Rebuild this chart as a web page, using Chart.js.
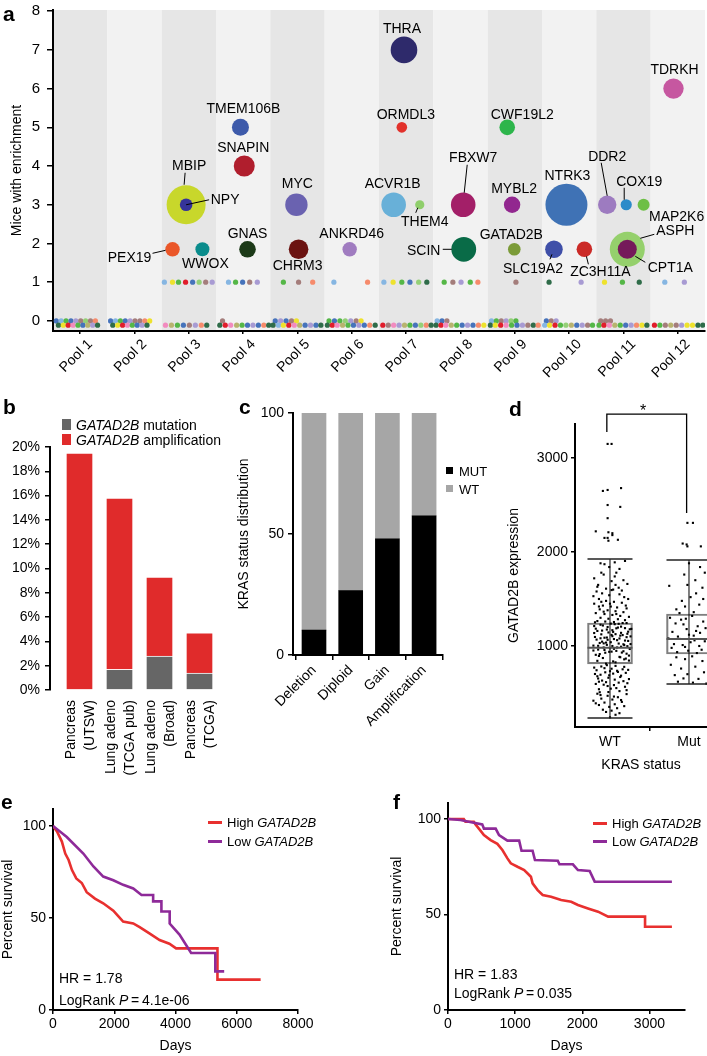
<!DOCTYPE html>
<html>
<head>
<meta charset="utf-8">
<script src="https://cdn.jsdelivr.net/npm/chart.js@4.4.1/dist/chart.umd.min.js"></script>
<style>
  html, body { margin: 0; padding: 0; overflow: hidden; background: #fff; }
  #fig { position: relative; width: 707px; height: 1056px; font-family: "Liberation Sans", Arial, sans-serif; color: #000; }
  canvas { position: absolute; }
  .t { position: absolute; white-space: nowrap; line-height: 1; transform: translateY(-50%); }
  .p { font-weight: bold; font-size: 21px; }
  .sq { position: absolute; }
</style>
</head>
<body>
<div id="fig">
  <canvas id="ca" width="708" height="392" style="left:0;top:0"></canvas>
  <canvas id="cb" width="232" height="385" style="left:0;top:395px"></canvas>
  <canvas id="cc" width="238" height="380" style="left:232px;top:395px"></canvas>
  <canvas id="cd" width="238" height="380" style="left:472px;top:395px"></canvas>
  <canvas id="ce" width="350" height="266" style="left:0;top:790px"></canvas>
  <canvas id="cf" width="357" height="266" style="left:350px;top:790px"></canvas>

  <div class="t p" style="left:3px;top:13px">a</div>
  <div class="t p" style="left:3px;top:406px">b</div>
  <div class="t p" style="left:239px;top:406px">c</div>
  <div class="t p" style="left:509px;top:408px">d</div>
  <div class="t p" style="left:1px;top:801px">e</div>
  <div class="t p" style="left:393px;top:801px">f</div>

  <div class="sq" style="left:62px;top:419px;width:9px;height:11px;background:#666"></div>
  <div class="t" style="left:76px;top:425px;font-size:14px"><i>GATAD2B</i> mutation</div>
  <div class="sq" style="left:62px;top:434px;width:9px;height:11px;background:#e02b2b"></div>
  <div class="t" style="left:76px;top:440px;font-size:14px"><i>GATAD2B</i> amplification</div>

  <div class="sq" style="left:446px;top:467px;width:7px;height:7px;background:#000"></div>
  <div class="t" style="left:459px;top:471px;font-size:13px">MUT</div>
  <div class="sq" style="left:446px;top:485px;width:7px;height:7px;background:#a6a6a6"></div>
  <div class="t" style="left:459px;top:489px;font-size:13px">WT</div>

  <div class="t" style="left:640px;top:411px;font-size:16px">*</div>

  <div class="sq" style="left:208px;top:821px;width:14px;height:3px;background:#e8302f"></div>
  <div class="t" style="left:227px;top:822px;font-size:13px">High <i>GATAD2B</i></div>
  <div class="sq" style="left:208px;top:840px;width:14px;height:3px;background:#8e2a99"></div>
  <div class="t" style="left:227px;top:841px;font-size:13px">Low <i>GATAD2B</i></div>
  <div class="t" style="left:59px;top:978px;font-size:14px">HR = 1.78</div>
  <div class="t" style="left:59px;top:1000px;font-size:14px">LogRank <i>P</i>&#8201;=&#8201;4.1e-06</div>

  <div class="sq" style="left:593px;top:822px;width:14px;height:3px;background:#e8302f"></div>
  <div class="t" style="left:612px;top:823px;font-size:13px">High <i>GATAD2B</i></div>
  <div class="sq" style="left:593px;top:840px;width:14px;height:3px;background:#8e2a99"></div>
  <div class="t" style="left:612px;top:841px;font-size:13px">Low <i>GATAD2B</i></div>
  <div class="t" style="left:454px;top:974px;font-size:14px">HR = 1.83</div>
  <div class="t" style="left:454px;top:993px;font-size:14px">LogRank <i>P</i>&#8201;=&#8201;0.035</div>
</div>

<script>
// ---- panel a data ----
const pools = ['Pool 1', 'Pool 2', 'Pool 3', 'Pool 4', 'Pool 5', 'Pool 6',
  'Pool 7', 'Pool 8', 'Pool 9', 'Pool 10', 'Pool 11', 'Pool 12'];
const miceTicks = [0, 1, 2, 3, 4, 5, 6, 7, 8];

const genes = ['TMEM106B', 'SNAPIN', 'MBIP', 'NPY', 'MYC', 'PEX19', 'WWOX', 'GNAS', 'CHRM3',
  'ANKRD46', 'THRA', 'ORMDL3', 'ACVR1B', 'THEM4', 'SCIN', 'FBXW7', 'CWF19L2', 'MYBL2',
  'GATAD2B', 'NTRK3', 'SLC19A2', 'ZC3H11A', 'TDRKH', 'DDR2', 'COX19', 'MAP2K6', 'ASPH', 'CPT1A'];
const genePool = [3.95, 4.02, 2.95, 2.95, 4.98, 2.70, 3.25, 4.08, 5.02,
  5.96, 6.96, 6.92, 6.77, 7.25, 8.06, 8.05, 8.86, 8.95,
  8.99, 9.95, 9.72, 10.28, 11.92, 10.70, 11.05, 11.37, 11.07, 11.07];
const geneMice = [5, 4, 3, 3, 3, 1.85, 1.85, 1.85, 1.85,
  1.85, 7, 5, 3, 3, 1.85, 3, 5, 3,
  1.85, 3, 1.85, 1.85, 6, 3, 3, 3, 1.85, 1.85];
const geneSize = [8.5, 10.5, 19.5, 6.3, 11.2, 7.2, 7, 8.3, 9.8,
  7.2, 13.3, 5.3, 12.3, 4.6, 12.4, 12.3, 7.8, 8.2,
  6.3, 21, 8.8, 7.8, 10.2, 9.2, 5.6, 6, 17.5, 9.5];
const geneColors = ['#3d5aaa', '#b01e2d', '#c8d72b', '#35339a', '#6a62b0', '#ea5628', '#0a8c8c', '#1c3a18', '#6b1311',
  '#a07cc0', '#2e2a6b', '#e2312b', '#68b0d8', '#8fce6b', '#096b47', '#a31f68', '#2db54b', '#92278f',
  '#7b9b38', '#3f72b5', '#3f4fa8', '#cb2a27', '#c657a0', '#9d7bc0', '#2c8bc9', '#6dbf45', '#95d06c', '#751a5a'];

// genes seen in exactly one mouse
const oneX = [2.55, 2.70, 2.81, 2.94, 3.07, 3.19, 3.31, 3.43, 3.73, 3.86, 3.99, 4.12, 4.26,
  4.74, 5.02, 5.28, 5.67, 6.29, 6.59, 6.76, 6.92, 7.07, 7.23, 7.38, 7.70, 7.86, 8.01, 8.18, 8.32,
  9.02, 9.63, 10.22, 10.65, 10.98, 11.29, 11.76, 12.12];
const oneCol = 'LygrblmvLgbmvgmsLsLygbldgmvgsmdvygdLv';

// genes seen in no mouse (two jittered rows)
const zeroHiX = [0.56, 0.65, 0.74, 0.83, 0.92, 1.01, 1.10, 1.19, 1.28,
  1.56, 1.65, 1.74, 1.83, 1.92, 2.01, 2.10, 2.19, 2.28,
  3.62, 4.59, 4.69, 4.79, 4.89, 4.98,
  5.58, 5.68, 5.78, 5.88, 5.98, 6.08, 6.17,
  7.57, 7.66, 7.75, 8.57, 8.66, 8.75, 8.84, 8.93, 9.02,
  9.58, 9.67, 9.76, 10.58, 10.67, 10.76];
const zeroHiCol = 'bLgbvmlmsbLgbvmmsymbvbmygbglvmyLbmLgmvlgbmvmmm';
const zeroLoX = [0.60, 0.69, 0.78, 0.87, 0.96, 1.05, 1.14, 1.23, 1.32,
  1.60, 1.69, 1.78, 1.87, 1.96, 2.05, 2.14, 2.23,
  2.57, 2.68, 2.79, 2.90, 3.01, 3.12, 3.23, 3.33,
  3.57, 3.67, 3.77, 3.88, 3.98, 4.08, 4.18, 4.28, 4.38, 4.47,
  4.55, 4.65, 4.74, 4.84, 4.94, 5.04, 5.14, 5.24, 5.34, 5.43,
  5.55, 5.64, 5.73, 5.83, 5.93, 6.03, 6.13, 6.23, 6.33, 6.43,
  6.57, 6.67, 6.77, 6.87, 6.97, 7.07, 7.17, 7.27, 7.37, 7.46,
  7.55, 7.64, 7.73, 7.83, 7.93, 8.03, 8.13, 8.23, 8.33, 8.43,
  8.55, 8.64, 8.74, 8.84, 8.94, 9.04, 9.14, 9.24, 9.34, 9.43,
  9.55, 9.64, 9.74, 9.84, 9.94, 10.04, 10.14, 10.24, 10.34, 10.43,
  10.55, 10.64, 10.74, 10.84, 10.94, 11.04, 11.14, 11.24, 11.34, 11.43,
  11.57, 11.67, 11.77, 11.87, 11.97, 12.07, 12.17, 12.27, 12.37, 12.46];
const zeroLoCol = 'dyrpgbkvd' + 'dyrpgbvd' + 'pkgbmvsd' + 'drpkgbvbsd' + 'dLyrpkbvbd' + 'drpkgbvbsd' +
  'rmpvkgblsd' + 'drpkgbvbsy' + 'dyrpgbvmds' + 'Lyrglkbvmg' + 'grpkgbvsyd' + 'rgmkmvyydd';
const zeroHiY = 0, zeroLoY = -0.11;

// ---- panel b data ----
const cohorts = [['Pancreas', '(UTSW)'], ['Lung adeno', '(TCGA pub)'], ['Lung adeno', '(Broad)'], ['Pancreas', '(TCGA)']];
const mutPct = [0, 1.7, 2.8, 1.4];
const ampPct = [19.5, 14.1, 6.5, 3.3];

// ---- panel c data ----
const copyStates = ['Deletion', 'Diploid', 'Gain', 'Amplification'];
const krasMut = [10.3, 26.6, 48, 57.5];
const krasWt = [89.7, 73.4, 52, 42.5];

// ---- panel d data ----
const dGroups = ['WT', 'Mut'];
const dQ1 = [809, 915];
const dMed = [980, 1075];
const dQ3 = [1245, 1340];
const dLo = [235, 595];
const dHi = [1925, 1915];
const sigBracket = [[0.96, 3277], [0.96, 3468], [1.97, 3468], [1.97, 2415]];
const wtPoints = [
  [0.97, 3150], [1.02, 3150], [0.91, 2650], [0.97, 2660], [1.14, 2680], [0.97, 2500], [1.13, 2480], [0.97, 2360],
  [0.82, 2220], [0.98, 2210], [1.03, 2200], [0.93, 2150], [0.98, 2120], [1.10, 2130], [1.03, 2180], [0.97, 2150],
  [0.88, 1880], [0.93, 1870], [0.99, 1840], [1.06, 1890], [1.08, 1780], [1.06, 1740], [0.80, 1720], [1.12, 1820],
  [1.02, 1690], [0.85, 1650], [1.17, 1700], [1.11, 1620], [0.95, 1610], [0.89, 1780], [1.22, 1660], [1.04, 1600],
  [0.84, 1630], [1.19, 1905], [0.92, 1760], [1.07, 1650],
  [0.83, 1580], [0.90, 1560], [0.99, 1540], [1.12, 1550], [1.18, 1520], [0.86, 1500], [0.95, 1480], [1.05, 1470],
  [1.15, 1460], [0.80, 1450], [0.91, 1430], [1.01, 1420], [1.09, 1410], [1.21, 1400], [0.87, 1390], [0.97, 1380],
  [1.07, 1370], [1.17, 1360], [0.82, 1350], [0.93, 1340], [1.03, 1330], [1.13, 1320], [1.24, 1310], [0.88, 1300],
  [0.98, 1290], [1.10, 1285], [1.19, 1275], [0.84, 1265], [0.94, 1260], [1.05, 1255], [1.15, 1590], [1.02, 1595],
  [0.79, 1530], [1.23, 1500], [1.00, 1450], [0.89, 1470], [1.08, 1340], [0.92, 1365], [1.20, 1430], [0.86, 1420],
  [0.80, 1212], [0.90, 1046], [1.01, 1238], [1.12, 884], [1.22, 1130], [0.85, 962], [0.96, 1175], [1.07, 826],
  [1.17, 1018], [1.26, 1102], [0.82, 906], [0.93, 1088], [1.04, 1150], [1.14, 992], [1.24, 845], [0.88, 1226],
  [0.99, 938], [1.09, 1062], [1.19, 1190], [0.79, 1004], [0.91, 872], [1.02, 1118], [1.11, 1026], [1.21, 918],
  [0.84, 1160], [0.95, 812], [1.05, 1074], [1.16, 1244], [1.25, 968], [0.87, 1032], [0.97, 1202], [1.08, 948],
  [1.18, 858], [0.81, 1096], [0.92, 984], [1.03, 1168], [1.13, 1110], [1.23, 1054], [0.86, 894], [0.96, 1012],
  [1.06, 1232], [1.15, 930], [1.27, 1182], [0.83, 1068], [0.94, 928], [1.04, 836], [1.14, 1140], [1.22, 998],
  [0.89, 1124], [1.00, 976], [1.10, 1196], [1.20, 866], [0.80, 1138], [0.91, 1218], [1.01, 1040], [1.12, 1080],
  [1.21, 1244], [0.85, 1002], [0.96, 1090], [1.07, 1126], [1.17, 944], [1.26, 1020], [0.82, 1184], [0.93, 958],
  [1.03, 1000], [1.14, 1206], [1.24, 898], [0.88, 1082], [0.98, 1144], [1.09, 984], [1.19, 1058], [0.79, 952],
  [0.90, 1164], [1.02, 940], [1.11, 1236], [1.21, 1094], [0.84, 842], [0.95, 1036], [1.05, 970], [1.16, 1116],
  [1.25, 1178], [0.87, 914], [0.97, 1066], [1.08, 1188], [1.18, 1010], [0.81, 1252], [0.92, 1028], [1.03, 1104],
  [1.13, 880], [1.23, 1152],
  [0.83, 742], [0.95, 615], [1.07, 788], [1.19, 566], [0.88, 694], [1.00, 732], [1.12, 520], [1.24, 648],
  [0.80, 770], [0.92, 588], [1.04, 706], [1.16, 752], [0.86, 540], [0.98, 662], [1.10, 724], [1.22, 604],
  [0.84, 678], [0.96, 796], [1.08, 552], [1.20, 714], [0.90, 632], [1.02, 758], [1.14, 684], [0.82, 596],
  [0.94, 720], [1.06, 642], [1.18, 778], [0.87, 508], [0.99, 688], [1.11, 610], [1.23, 746], [0.85, 654],
  [0.97, 574], [1.09, 736], [1.21, 530], [0.81, 702], [0.93, 764], [1.05, 584], [1.17, 626], [0.89, 782],
  [1.01, 546], [1.13, 670], [0.86, 620], [0.98, 510],
  [0.84, 492], [0.97, 470], [1.10, 455], [1.21, 488], [0.89, 440], [1.03, 430], [0.79, 418], [1.15, 405],
  [0.93, 398], [1.06, 380], [0.86, 372], [1.18, 360], [0.99, 352], [1.09, 338], [0.91, 322], [1.02, 312],
  [0.95, 298], [1.12, 285], [0.88, 478], [1.05, 462], [1.00, 240], [1.14, 425], [0.82, 390], [1.07, 268]
];
const mutPoints = [
  [1.98, 2310], [2.05, 2310], [1.92, 2090], [1.98, 2060], [2.15, 2060], [1.97, 2080],
  [2.00, 1880], [1.94, 1760], [2.14, 1840], [2.08, 1700], [2.20, 1780], [1.75, 1640], [2.17, 1620], [1.98, 1650],
  [2.02, 1520], [1.91, 1480], [2.09, 1560], [2.18, 1500], [1.84, 1390], [1.95, 1420], [2.06, 1360], [2.13, 1440], [1.88, 1350],
  [1.76, 1300], [1.83, 1240], [1.90, 1280], [1.97, 1180], [2.04, 1320], [2.11, 1210], [2.18, 1260], [1.79, 1150],
  [1.86, 1100], [1.93, 1230], [2.00, 1120], [2.07, 1060], [2.14, 1140], [2.21, 1190], [1.81, 1020], [1.88, 1075],
  [1.95, 990], [2.02, 1040], [2.09, 1160], [2.16, 960], [1.74, 1080], [1.85, 935], [1.92, 1010], [1.99, 950],
  [2.06, 1110], [2.13, 1000], [2.20, 1050], [1.78, 980], [1.96, 1290], [2.10, 925],
  [1.84, 880], [1.95, 860], [2.04, 890], [2.17, 840], [1.77, 800], [1.90, 760], [2.08, 780], [2.19, 720],
  [1.82, 690], [1.98, 700], [2.12, 650], [1.86, 620], [2.05, 610], [2.22, 600], [1.93, 655]
];

// ---- panels e, f data (Kaplan-Meier curves) ----
const eHighDays = [0, 130, 290, 400, 510, 620, 760, 940, 1100, 1370, 1640, 1970, 2130, 2290, 2620, 2830, 3160, 3480, 3800, 4020, 5370, 5370, 6780];
const eHighPct = [100, 97, 91.5, 85, 81.5, 76, 71.5, 69, 64, 60.5, 58, 54, 51, 48, 47, 45, 41.5, 38, 36, 33.5, 33.5, 16.5, 16.5];
const eLowDays = [0, 450, 990, 1320, 1640, 1970, 2290, 2620, 2890, 3270, 3270, 3540, 3540, 3810, 3810, 4130, 4510, 5300, 5300, 5590];
const eLowPct = [100, 94, 85, 78, 72.5, 70.5, 68, 66, 62.5, 62.5, 59, 59, 53.5, 53.5, 47, 41, 31, 31, 21, 21];
const fHighDays = [0, 235, 260, 385, 410, 460, 535, 635, 735, 810, 885, 935, 1035, 1135, 1235, 1260, 1335, 1410, 1535, 1685, 1835, 1935, 2085, 2235, 2385, 2935, 2935, 3335];
const fHighPct = [100, 100, 98.6, 98.6, 97.2, 95, 91.6, 89, 87, 83.8, 79.4, 76.8, 75, 73.3, 69.8, 66.3, 62.8, 60.2, 59.3, 57.6, 56.7, 55, 53.2, 51.5, 48.9, 48.9, 43.6, 43.6];
const fLowDays = [0, 185, 310, 510, 535, 710, 760, 885, 1060, 1095, 1260, 1295, 1635, 1660, 1860, 1935, 2110, 2185, 3335];
const fLowPct = [100, 99.5, 98.6, 97.2, 95, 95, 91.6, 88.7, 88.7, 83.4, 83.4, 78.5, 78.2, 76.3, 76.3, 73.3, 72.8, 67.2, 67.2];
const pctTicks = [0, 50, 100];
const eDayTicks = [0, 2000, 4000, 6000, 8000];
const fDayTicks = [0, 1000, 2000, 3000];
const exprTicks = [1000, 2000, 3000];

// ---- styling ----
const dotPalette = { L: '#86b6e2', y: '#eee22d', g: '#55b747', r: '#e11d2b', b: '#4673bb', l: '#94d077',
  m: '#a47d7b', v: '#a89bd3', s: '#f68b6c', d: '#2f6c49', p: '#f28bbf', k: '#b8b36f' };
const labelPos = {
  TMEM106B: [3, -18], SNAPIN: [-1, -18], MBIP: [3, -39], NPY: [39, -5], MYC: [1, -21], PEX19: [-43, 9],
  WWOX: [3, 15], GNAS: [0, -15], CHRM3: [-1, 17], ANKRD46: [2, -15], THRA: [-2, -21], ORMDL3: [4, -12],
  ACVR1B: [-1, -21], THEM4: [5, 17], SCIN: [-40, 2], FBXW7: [10, -47], CWF19L2: [15, -12], MYBL2: [2, -16],
  GATAD2B: [-3, -14], NTRK3: [1, -29], SLC19A2: [-21, 20], ZC3H11A: [16, 23], TDRKH: [1, -18], DDR2: [0, -48],
  COX19: [13, -23], MAP2K6: [33, 12], ASPH: [48, -18], CPT1A: [43, 19]
};
const leaders = {
  MBIP: [-1, -32, -2, -20], NPY: [0, 0, 23, -5], PEX19: [-20, 4, -7, 1], SCIN: [-21, 0, -12, 0],
  THEM4: [-4, 8, -2, 3], FBXW7: [4, -40, 1, -12], DDR2: [-6, -42, 0, -9], COX19: [-2, -17, -2, -5],
  ASPH: [27, -15, 13, -11], CPT1A: [18, 13, 8, 7], SLC19A2: [-4, 10, -2, 5], ZC3H11A: [4, 15, 2, 7]
};

Chart.defaults.font.family = '"Liberation Sans", Arial, Helvetica, sans-serif';
Chart.defaults.font.size = 14;
Chart.defaults.color = '#000';
Chart.defaults.animation = false;
Chart.defaults.responsive = false;
Chart.defaults.devicePixelRatio = 1;
Chart.defaults.layout.autoPadding = false;
Chart.defaults.plugins.legend.display = false;
Chart.defaults.plugins.tooltip.enabled = false;

// force axis box sizes so the plot areas land where they do in the figure
const fixY = w => s => { s.width = w; s.paddingTop = 0; s.paddingBottom = 0; };
const fixX = h => s => { s.height = h; s.paddingLeft = 0; s.paddingRight = 0; };
const setTicks = vals => s => { s.ticks = vals.map(v => ({ value: v })); };
const plain = v => String(v);
const axisLook = tl => ({
  border: { display: true, color: '#000', width: 2 },
  grid: { display: true, drawOnChartArea: false, drawTicks: true, tickLength: tl, color: '#000', lineWidth: 1.5 }
});

// ---- panel a ----
const stripes = {
  id: 'stripes',
  beforeDraw(chart) {
    const { ctx, chartArea: ca, scales: { x } } = chart;
    ctx.save();
    pools.forEach((p, i) => {
      const l = x.getPixelForValue(i + 0.5), r = x.getPixelForValue(i + 1.5);
      ctx.fillStyle = i % 2 ? '#f2f2f2' : '#e6e6e6';
      ctx.fillRect(l, ca.top, r - l, ca.bottom - ca.top);
    });
    ctx.restore();
  }
};
const geneLabels = {
  id: 'geneLabels',
  afterDatasetsDraw(chart) {
    const { ctx, scales: { x, y } } = chart;
    ctx.save();
    ctx.font = '14px "Liberation Sans", Arial, sans-serif';
    ctx.fillStyle = '#000';
    ctx.strokeStyle = '#000';
    ctx.lineWidth = 1;
    ctx.textAlign = 'center';
    ctx.textBaseline = 'middle';
    genes.forEach((g, i) => {
      const px = x.getPixelForValue(genePool[i]), py = y.getPixelForValue(geneMice[i]);
      const [dx, dy] = labelPos[g];
      ctx.fillText(g, px + dx, py + dy);
      const l = leaders[g];
      if (l) {
        ctx.beginPath();
        ctx.moveTo(px + l[0], py + l[1]);
        ctx.lineTo(px + l[2], py + l[3]);
        ctx.stroke();
      }
    });
    ctx.restore();
  }
};

const smallDots = [];
const smallCols = [];
oneX.forEach((x, i) => { smallDots.push({ x, y: 1 }); smallCols.push(dotPalette[oneCol[i]]); });
zeroHiX.forEach((x, i) => { smallDots.push({ x, y: zeroHiY }); smallCols.push(dotPalette[zeroHiCol[i]]); });
zeroLoX.forEach((x, i) => { smallDots.push({ x, y: zeroLoY }); smallCols.push(dotPalette[zeroLoCol[i]]); });

new Chart(document.getElementById('ca'), {
  type: 'bubble',
  data: {
    datasets: [
      {
        data: genes.map((g, i) => ({ x: genePool[i], y: geneMice[i], r: geneSize[i] })),
        backgroundColor: geneColors, borderWidth: 0
      },
      {
        type: 'scatter', data: smallDots, backgroundColor: smallCols,
        pointRadius: 2.6, borderWidth: 0
      }
    ]
  },
  options: {
    layout: { padding: { left: 0, top: 10, right: 3, bottom: 0 } },
    scales: {
      x: {
        type: 'linear', min: 0.5, max: 12.5, afterFit: fixX(61),
        afterBuildTicks: setTicks(pools.map((p, i) => i + 1)),
        ticks: { callback: v => pools[v - 1], minRotation: 45, maxRotation: 45, autoSkip: false,
          font: { size: 14 }, labelOffset: 10, padding: 2 },
        ...axisLook(3)
      },
      y: {
        min: -0.26, max: 8.03, afterFit: fixY(53),
        afterBuildTicks: setTicks(miceTicks),
        ticks: { font: { size: 15 }, padding: 7 },
        title: { display: true, text: 'Mice with enrichment', font: { size: 14 }, padding: { top: 9, bottom: 0 } },
        ...axisLook(6)
      }
    }
  },
  plugins: [stripes, geneLabels]
});

// ---- panel b ----
new Chart(document.getElementById('cb'), {
  type: 'bar',
  data: {
    datasets: [
      { data: mutPct.map((v, i) => ({ x: i + 1, y: v })), backgroundColor: '#666666',
        borderColor: 'rgba(255,255,255,0.6)', borderWidth: 1, barThickness: 27 },
      { data: ampPct.map((v, i) => ({ x: i + 1, y: v })), backgroundColor: '#e02b2b',
        borderColor: 'rgba(255,255,255,0.6)', borderWidth: 1, barThickness: 27 }
    ]
  },
  options: {
    layout: { padding: { left: 0, top: 52, right: 7, bottom: 0 } },
    scales: {
      x: {
        type: 'linear', stacked: true, offset: false, min: 0.2625, max: 4.6375, afterFit: fixX(90),
        afterBuildTicks: setTicks([1, 2, 3, 4]),
        ticks: { callback: v => cohorts[v - 1], minRotation: 90, maxRotation: 90, autoSkip: false,
          labelOffset: -8, padding: 2, font: { size: 14, lineHeight: 1.35 } },
        grid: { display: false, offset: false }, border: { display: false }
      },
      y: {
        stacked: true, min: 0, max: 20, afterFit: fixY(50),
        ticks: { stepSize: 2, callback: v => v + '%', font: { size: 14 }, padding: 5 },
        ...axisLook(5)
      }
    }
  }
});

// ---- panel c ----
new Chart(document.getElementById('cc'), {
  type: 'bar',
  data: {
    datasets: [
      { label: 'MUT', data: krasMut.map((v, i) => ({ x: i + 1, y: v })), backgroundColor: '#000', barThickness: 24 },
      { label: 'WT', data: krasWt.map((v, i) => ({ x: i + 1, y: v })), backgroundColor: '#a6a6a6', barThickness: 24 }
    ]
  },
  options: {
    layout: { padding: { left: 0, top: 18, right: 27, bottom: 0 } },
    scales: {
      x: {
        type: 'linear', stacked: true, offset: false, min: 0.428, max: 4.515, afterFit: fixX(120),
        afterBuildTicks: setTicks([1, 2, 3, 4]),
        ticks: { callback: v => copyStates[v - 1], minRotation: 45, maxRotation: 45, autoSkip: false,
          font: { size: 14 }, padding: 2 },
        ...axisLook(5)
      },
      y: {
        stacked: true, min: 0, max: 100, afterFit: fixY(61),
        afterBuildTicks: setTicks(pctTicks),
        ticks: { font: { size: 14 }, padding: 4 },
        title: { display: true, text: 'KRAS status distribution', font: { size: 14 }, padding: { top: 4, bottom: 0 } },
        ...axisLook(5)
      }
    }
  }
});

// ---- panel d ----
const xy = ([x, y]) => ({ x, y });
new Chart(document.getElementById('cd'), {
  type: 'scatter',
  data: {
    datasets: [
      { data: sigBracket.map(xy), type: 'line', borderColor: '#000', borderWidth: 1.3, pointRadius: 0, clip: false },
      { data: dMed.map((v, i) => ({ x: i + 1, y: v })), pointStyle: 'line', pointRadius: 22.5,
        borderColor: '#555', borderWidth: 2 },
      { data: dHi.map((v, i) => ({ x: i + 1, y: v })).concat(dLo.map((v, i) => ({ x: i + 1, y: v }))),
        pointStyle: 'line', pointRadius: 22.5, borderColor: '#222', borderWidth: 1.5 },
      { data: wtPoints.map(xy).concat(mutPoints.map(xy)), pointStyle: 'rect', pointRadius: 1.5,
        backgroundColor: '#000', borderWidth: 0 },
      { type: 'line', data: [{ x: 1, y: dLo[0] }, { x: 1, y: dHi[0] }, { x: 1.5, y: null }, { x: 2, y: dLo[1] }, { x: 2, y: dHi[1] }],
        borderColor: '#000', borderWidth: 1, pointRadius: 0, spanGaps: false },
      { type: 'bar', data: dQ1.map((v, i) => ({ x: i + 1, y: [v, dQ3[i]] })), backgroundColor: 'rgba(0,0,0,0)',
        borderColor: '#7f7f7f', borderWidth: 1.5, borderSkipped: false, barThickness: 45 }
    ]
  },
  options: {
    layout: { padding: { left: 0, top: 29, right: 3, bottom: 0 } },
    scales: {
      x: {
        type: 'linear', offset: false, min: 0.557, max: 2.228, afterFit: fixX(48),
        afterBuildTicks: setTicks([1, 2]),
        ticks: { callback: v => dGroups[v - 1], font: { size: 14 }, padding: 3 },
        title: { display: true, text: 'KRAS status', font: { size: 14 }, padding: { top: 0, bottom: 1 } },
        ...axisLook(4)
      },
      y: {
        min: 138, max: 3362, afterFit: fixY(103),
        afterBuildTicks: setTicks(exprTicks),
        ticks: { callback: plain, font: { size: 14 }, padding: 3 },
        title: { display: true, text: 'GATAD2B expression', font: { size: 14 }, padding: { top: 34, bottom: 0 } },
        ...axisLook(4)
      }
    }
  }
});

// ---- panels e, f ----
function kmChart(id, pad, xMax, yMax, dayTicks, yWidth, titlePad, high, low) {
  return new Chart(document.getElementById(id), {
    type: 'line',
    data: {
      datasets: [
        { data: low[0].map((d, i) => ({ x: d, y: low[1][i] })), borderColor: '#8e2a99', borderWidth: 2.6, pointRadius: 0 },
        { data: high[0].map((d, i) => ({ x: d, y: high[1][i] })), borderColor: '#e8302f', borderWidth: 2.6, pointRadius: 0 }
      ]
    },
    options: {
      layout: { padding: pad },
      scales: {
        x: {
          type: 'linear', min: 0, max: xMax, afterFit: fixX(46),
          afterBuildTicks: setTicks(dayTicks),
          ticks: { callback: plain, font: { size: 14 }, padding: 2 },
          title: { display: true, text: 'Days', font: { size: 14 }, padding: { top: 0, bottom: 1 } },
          ...axisLook(4)
        },
        y: {
          min: 0, max: yMax, afterFit: fixY(yWidth),
          afterBuildTicks: setTicks(pctTicks),
          ticks: { callback: plain, font: { size: 14 }, padding: 3 },
          title: { display: true, text: 'Percent survival', font: { size: 14 }, padding: { top: titlePad, bottom: 0 } },
          ...axisLook(4)
        }
      }
    }
  });
}
kmChart('ce', { left: 0, top: 19, right: 52, bottom: 0 }, 8000, 109.2, eDayTicks, 53, 0,
  [eHighDays, eHighPct], [eLowDays, eLowPct]);
kmChart('cf', { left: 0, top: 13, right: 22, bottom: 0 }, 3530, 108.4, fDayTicks, 98, 39,
  [fHighDays, fHighPct], [fLowDays, fLowPct]);
</script>
</body>
</html>
